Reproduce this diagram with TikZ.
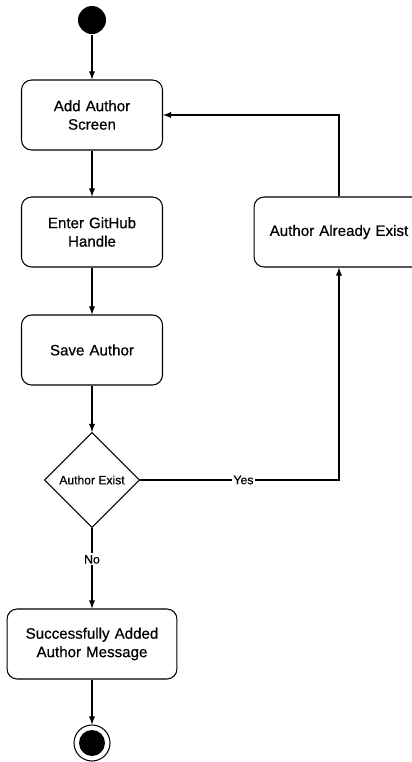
\documentclass[tikz,border=0pt]{standalone}
\usepackage{fontspec}
\setmainfont[FakeBold=0.5]{Liberation Sans}
\usetikzlibrary{shapes.geometric}

\tikzstyle{block} = [ draw,fill=white,text width=7em,align=center,
                      rounded corners=0.2cm,minimum width=2.82cm,
                      minimum height=1.4cm,font=\fontsize{8.6}{10.5}\selectfont]
\tikzstyle{decision} = [ draw,diamond,aspect=1,inner sep=0pt,minimum size=1.9cm,
                         font=\fontsize{6.9}{8}\selectfont]
\tikzstyle{label} = [ fill=white,inner sep=1pt,font=\fontsize{7}{8}\selectfont]

\begin{document}
\begin{tikzpicture}[x=0.02cm,y=-0.02cm,line width=0.6pt]
  \useasboundingbox (0,0) rectangle (412,762);

  \node[circle,fill=black,minimum size=0.56cm,inner sep=0pt] at (92,20) (start) {};
  \node[block] at (92,115) (addscreen)   {Add Author \\ Screen};
  \node[block] at (92,232) (enterhandle) {Enter GitHub \\ Handle};
  \node[block] at (92,350) (saveauthor)  {Save Author};
  \node[decision] at (92,480) (exists)   {Author Exist};
  \node[block,minimum width=3.3cm,text width=9em] at (92,644) (success)
        {Successfully Added \\ Author Message};
  \node[block,minimum width=3.28cm,text width=9em] at (339,232) (already)
        {Author Already Exist};
  \node[circle,draw,minimum size=0.72cm,inner sep=0pt] at (92,743) (stop) {};
  \fill (stop.center) circle (0.26cm);

  \draw[-latex] (start) -- (addscreen);
  \draw[-latex] (addscreen) -- (enterhandle);
  \draw[-latex] (enterhandle) -- (saveauthor);
  \draw[-latex] (saveauthor) -- (exists.north);
  \draw[-latex] (exists.south) -- node[label,pos=0.39] {No} (success.north);
  \draw[-latex] (success) -- (stop);
  \draw[-latex] (exists.east) -| node[label,pos=0.26] {Yes} (already.south);
  \draw[-latex] (already.north) |- (addscreen.east);
\end{tikzpicture}
\end{document}
